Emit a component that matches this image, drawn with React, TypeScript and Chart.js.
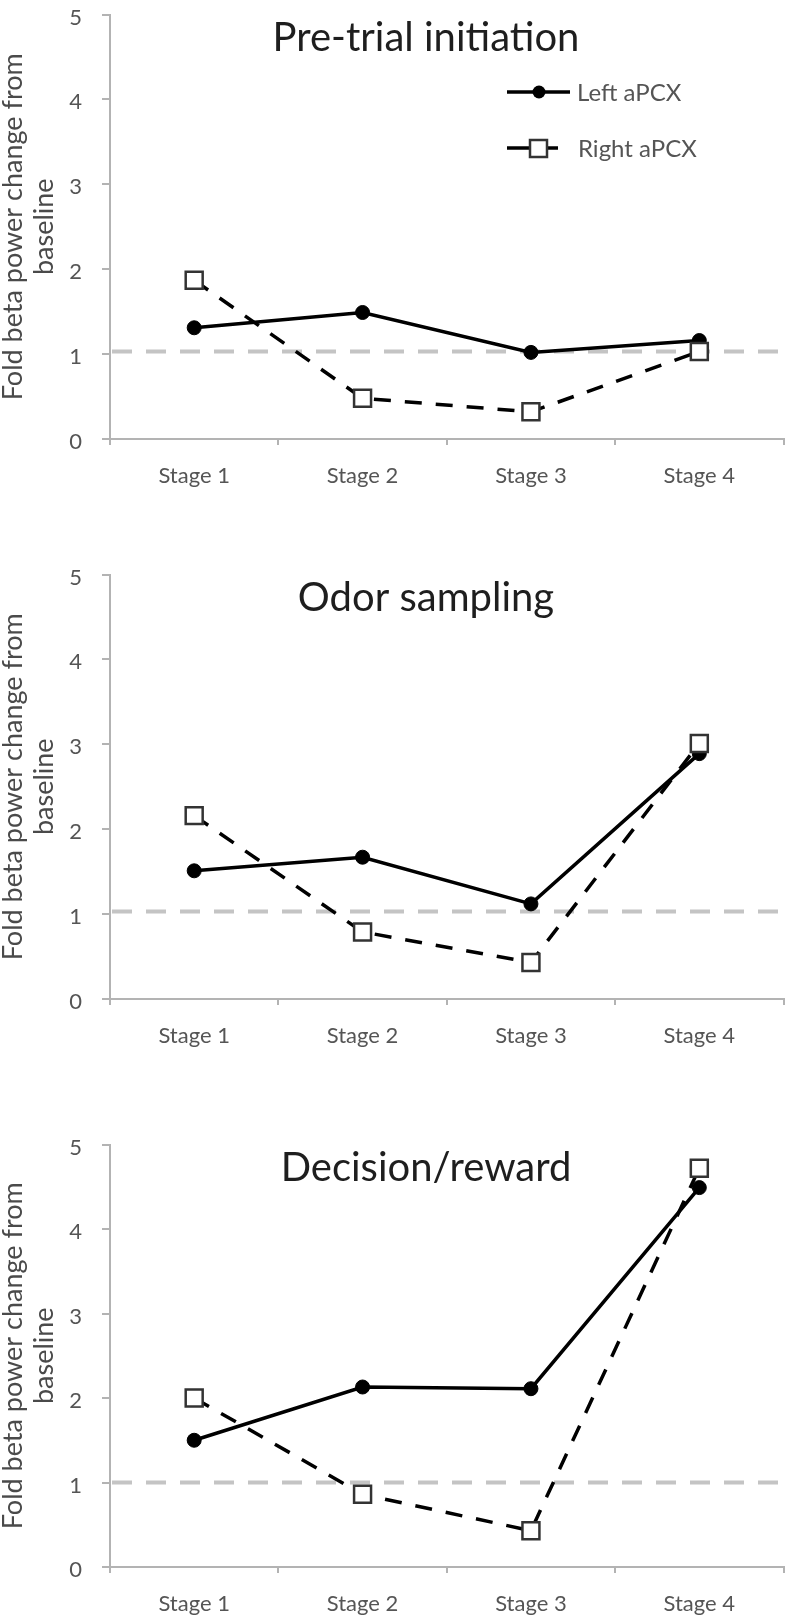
import React, { useEffect, useRef } from "react";
import { Chart, registerables } from "chart.js";

Chart.register(...registerables);

// ---- Data ----
const stages = ["Stage 1", "Stage 2", "Stage 3", "Stage 4"];
const seriesNames = ["Left aPCX", "Right aPCX"];
const panelTitles = ["Pre-trial initiation", "Odor sampling", "Decision/reward"];
const yAxisTitle = ["Fold beta power change from", "baseline"];
const yTicks = [0, 1, 2, 3, 4, 5];

const leftPreTrial = [1.31, 1.49, 1.02, 1.16];
const rightPreTrial = [1.87, 0.48, 0.32, 1.03];
const leftOdor = [1.51, 1.67, 1.12, 2.89];
const rightOdor = [2.16, 0.79, 0.43, 3.01];
const leftDecision = [1.5, 2.13, 2.11, 4.49];
const rightDecision = [2.0, 0.86, 0.43, 4.72];
const baselineValues = [1.03, 1.03, 1.0];

const FONT = "Lato";
const GRAY_TEXT = "#555555";
const AXIS_COLOR = "#b3b3b3";

type PanelProps = {
  top: number;
  height: number;
  plotBottom: number;
  title: string;
  left: number[];
  right: number[];
  baseline: number;
  showLegend: boolean;
};

function Panel({ top, height, plotBottom, title, left, right, baseline, showLegend }: PanelProps) {
  const ref = useRef<HTMLCanvasElement>(null);

  useEffect(() => {
    if (!ref.current) return;
    const xAxisHeight = height - plotBottom;

    const decor = {
      id: "panelDecor",
      beforeDatasetsDraw(chart: any) {
        const { ctx, chartArea, scales } = chart;
        const y = scales.y.getPixelForValue(baseline);
        ctx.save();
        ctx.strokeStyle = "#c4c4c4";
        ctx.lineWidth = 4;
        ctx.setLineDash([20, 14]);
        ctx.beginPath();
        ctx.moveTo(chartArea.left + 2, y);
        ctx.lineTo(chartArea.right, y);
        ctx.stroke();
        ctx.restore();
      },
      afterDraw(chart: any) {
        const { ctx, chartArea } = chart;
        ctx.save();
        // panel title
        ctx.fillStyle = "#1e1e1e";
        ctx.font = `40px ${FONT}`;
        ctx.textAlign = "center";
        ctx.textBaseline = "alphabetic";
        ctx.fillText(title, 426, chartArea.top + 36);

        // y axis title (two lines, rotated)
        const cy = (chartArea.top + chartArea.bottom) / 2;
        ctx.fillStyle = "#4a4a4a";
        ctx.font = `27px ${FONT}`;
        const baselinesX = [22, 53];
        yAxisTitle.forEach((line, i) => {
          ctx.save();
          ctx.translate(baselinesX[i], cy);
          ctx.rotate(-Math.PI / 2);
          ctx.textAlign = "center";
          ctx.fillText(line, 0, 0);
          ctx.restore();
        });

        // legend
        if (showLegend) {
          ctx.strokeStyle = "#000";
          ctx.lineWidth = 3.5;
          ctx.beginPath();
          ctx.moveTo(507, 92);
          ctx.lineTo(570, 92);
          ctx.stroke();
          ctx.fillStyle = "#000";
          ctx.beginPath();
          ctx.arc(539, 92, 6.5, 0, Math.PI * 2);
          ctx.fill();

          ctx.beginPath();
          ctx.moveTo(507, 148);
          ctx.lineTo(558, 148);
          ctx.stroke();
          ctx.fillStyle = "#fff";
          ctx.strokeStyle = "#333";
          ctx.lineWidth = 2.5;
          ctx.fillRect(530, 140, 17, 17);
          ctx.strokeRect(530, 140, 17, 17);

          ctx.fillStyle = GRAY_TEXT;
          ctx.font = `24px ${FONT}`;
          ctx.textAlign = "left";
          ctx.fillText(seriesNames[0], 577, 101);
          ctx.fillText(seriesNames[1], 578, 157);
        }
        ctx.restore();
      },
    };

    const chart = new Chart(ref.current, {
      type: "line",
      data: {
        labels: stages,
        datasets: [
          {
            label: seriesNames[0],
            data: left,
            borderColor: "#000",
            borderWidth: 3.5,
            pointStyle: "circle",
            pointRadius: 7,
            pointBackgroundColor: "#000",
            pointBorderColor: "#000",
            pointBorderWidth: 1,
            tension: 0,
            order: 1,
          },
          {
            label: seriesNames[1],
            data: right,
            borderColor: "#000",
            borderWidth: 3.5,
            borderDash: [17, 14],
            pointStyle: "rect",
            pointRadius: 12,
            pointBackgroundColor: "#fff",
            pointBorderColor: "#333",
            pointBorderWidth: 2.5,
            tension: 0,
            order: 0,
          },
        ],
      },
      options: {
        responsive: false,
        animation: false,
        devicePixelRatio: 1,
        layout: { padding: { top: 5, left: 0, right: 1, bottom: 0 } },
        plugins: {
          legend: { display: false },
          tooltip: { enabled: false },
        },
        scales: {
          x: {
            offset: true,
            grid: {
              offset: true,
              drawOnChartArea: false,
              drawTicks: true,
              tickLength: 6,
              color: AXIS_COLOR,
              lineWidth: 2,
            },
            border: { display: true, color: AXIS_COLOR, width: 2 },
            ticks: {
              font: { family: FONT, size: 22 },
              color: GRAY_TEXT,
              padding: 18,
              maxRotation: 0,
            },
            afterFit: (s: any) => {
              s.height = xAxisHeight;
              s.paddingLeft = 0;
              s.paddingRight = 0;
            },
          },
          y: {
            min: 0,
            max: 5,
            afterBuildTicks: (s: any) => {
              s.ticks = yTicks.map((v) => ({ value: v }));
            },
            grid: {
              drawOnChartArea: false,
              drawTicks: true,
              tickLength: 8,
              color: AXIS_COLOR,
              lineWidth: 2,
            },
            border: { display: true, color: AXIS_COLOR, width: 2 },
            ticks: {
              font: { family: FONT, size: 22 },
              color: GRAY_TEXT,
              padding: 20,
              labelOffset: 3,
            },
            afterFit: (s: any) => {
              s.width = 110;
              s.paddingTop = 0;
              s.paddingBottom = 0;
            },
          },
        },
      },
      plugins: [decor],
    } as any);

    return () => chart.destroy();
  }, []);

  return (
    <div style={{ position: "absolute", top, left: 0, width: 798, height }}>
      <canvas ref={ref} width={798} height={height} style={{ display: "block" }} />
    </div>
  );
}

export default function App() {
  return (
    <div style={{ position: "absolute", top: 0, left: 0, width: 798, height: 1621, background: "#fff" }}>
      <Panel top={0} height={560} plotBottom={439} title={panelTitles[0]} left={leftPreTrial} right={rightPreTrial} baseline={baselineValues[0]} showLegend={true} />
      <Panel top={560} height={570} plotBottom={439} title={panelTitles[1]} left={leftOdor} right={rightOdor} baseline={baselineValues[1]} showLegend={false} />
      <Panel top={1130} height={491} plotBottom={437} title={panelTitles[2]} left={leftDecision} right={rightDecision} baseline={baselineValues[2]} showLegend={false} />
    </div>
  );
}
